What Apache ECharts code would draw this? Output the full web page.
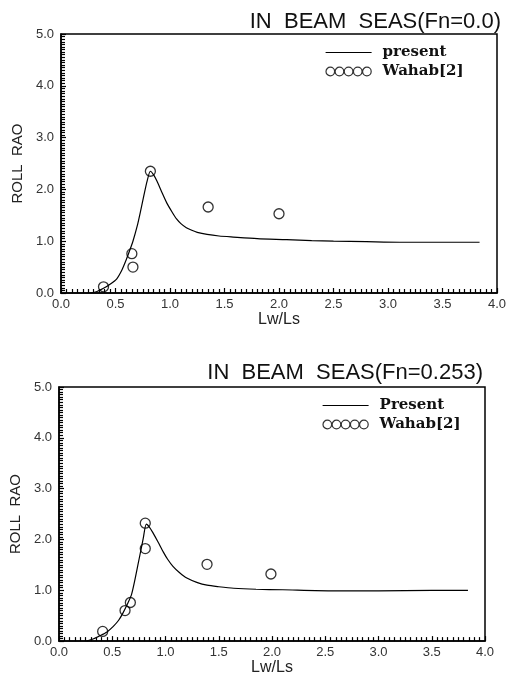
<!DOCTYPE html>
<html>
<head>
<meta charset="utf-8">
<script src="https://cdn.jsdelivr.net/npm/echarts@6/dist/echarts.min.js"></script>
<style>
html,body{margin:0;padding:0;background:#fff;}
#chart{width:511px;height:677px;}
</style>
</head>
<body>
<div id="chart"></div>
<script>
// ---- data ----
const titles = ['IN  BEAM  SEAS(Fn=0.0)', 'IN  BEAM  SEAS(Fn=0.253)'];
const lineNames = ['present', 'Present'];
const pointName = 'Wahab[2]';
const xAxisName = 'Lw/Ls';
const yAxisName = 'ROLL  RAO';

// present method, Fn = 0.0  [Lw/Ls, roll RAO]
const presentTop = [[0.27,0],[0.33,0.03],[0.39,0.09],[0.45,0.17],[0.51,0.27],[0.56,0.45],[0.60,0.65],
  [0.63,0.82],[0.66,1.0],[0.70,1.3],[0.73,1.58],[0.76,1.88],[0.79,2.16],[0.82,2.35],[0.85,2.28],
  [0.88,2.16],[0.92,1.97],[0.97,1.74],[1.02,1.56],[1.06,1.43],[1.10,1.34],[1.15,1.26],[1.20,1.21],
  [1.25,1.17],[1.34,1.13],[1.45,1.10],[1.58,1.08],[1.80,1.05],[2.07,1.03],[2.30,1.01],[2.50,1.0],[2.80,0.99],
  [3.11,0.98],[3.50,0.98],[3.84,0.98]];
// Wahab[2], Fn = 0.0
const wahabTop = [[0.39,0.12],[0.65,0.76],[0.66,0.50],[0.82,2.35],[1.35,1.66],[2.0,1.53]];

// present method, Fn = 0.253
const presentBottom = [[0.26,0],[0.32,0.04],[0.38,0.1],[0.45,0.18],[0.51,0.29],[0.56,0.41],[0.60,0.55],
  [0.64,0.72],[0.68,0.91],[0.71,1.18],[0.74,1.49],[0.77,1.8],[0.79,2.01],[0.82,2.3],[0.85,2.24],
  [0.88,2.14],[0.93,1.95],[0.98,1.75],[1.02,1.61],[1.07,1.47],[1.13,1.35],[1.20,1.24],[1.30,1.15],
  [1.39,1.10],[1.50,1.07],[1.64,1.04],[1.85,1.02],[2.10,1.01],[2.58,0.99],[3.00,0.99],[3.50,1.0],[3.84,1.0]];
// Wahab[2], Fn = 0.253
const wahabBottom = [[0.41,0.19],[0.62,0.60],[0.67,0.76],[0.81,2.32],[0.81,1.82],[1.39,1.51],[1.99,1.32]];

const xRange = [0, 4], xStep = 0.5;
const yRange = [0, 5], yStep = 1;

// ---- chart ----
const sans = 'Liberation Sans';
const serif = 'DejaVu Serif';
const grids = [
  {left: 61, top: 34, width: 436, height: 259},
  {left: 59, top: 387, width: 426, height: 256}
];

// legend icons (box 46 x 10)
function ringsPath() {
  let d = '';
  for (let i = 0; i < 5; i++) {
    const cx = 4.7 + i * 9.15, r = 4.3;
    d += 'M' + (cx - r) + ' 5A' + r + ' ' + r + ' 0 1 1 ' + (cx + r) + ' 5A' + r + ' ' + r + ' 0 1 1 ' + (cx - r) + ' 5Z';
  }
  d += 'M0 0L0.01 0M46 10L46.01 10';
  return 'path://' + d;
}
const linePath = 'path://M0 4.4H46V5.6H0ZM0 0L0.01 0M46 10L46.01 10';

function xAx(gi, nameGap) {
  return {
    gridIndex: gi, type: 'value', min: xRange[0], max: xRange[1], interval: xStep,
    name: xAxisName, nameLocation: 'middle', nameGap: nameGap,
    nameTextStyle: {fontFamily: sans, fontSize: 16, color: '#222'},
    axisLine: {lineStyle: {color: '#000', width: 1.5}},
    axisTick: {show: true, inside: true, length: 5, lineStyle: {color: '#000', width: 1.2}},
    minorTick: {show: true, splitNumber: 10, length: 4, lineStyle: {color: '#000', width: 1.2}},
    splitLine: {show: false},
    axisLabel: {fontFamily: sans, fontSize: 13, color: '#333', margin: 5,
      formatter: v => v.toFixed(1)}
  };
}
function yAx(gi) {
  return {
    gridIndex: gi, type: 'value', min: yRange[0], max: yRange[1], interval: yStep,
    name: yAxisName, nameLocation: 'middle', nameGap: 32,
    nameTextStyle: {fontFamily: sans, fontSize: 15, color: '#222'},
    axisLine: {lineStyle: {color: '#000', width: 1.5}},
    axisTick: {show: true, inside: true, length: 5, lineStyle: {color: '#000', width: 1.2}},
    minorTick: {show: true, splitNumber: 20, length: 4, lineStyle: {color: '#000', width: 1.2}},
    splitLine: {show: false},
    axisLabel: {fontFamily: sans, fontSize: 13, color: '#333', margin: 7,
      formatter: v => v.toFixed(1)}
  };
}
function legend(gi, top, left) {
  return {
    orient: 'vertical', left: left, top: top, itemGap: 4,
    itemWidth: 46, itemHeight: 10,
    textStyle: {fontFamily: serif, fontWeight: 'bold', fontSize: 15, color: '#111', padding: [0, 0, 0, 6]},
    selectedMode: false,
    data: [
      {name: lineNames[gi], icon: linePath,
        itemStyle: {color: '#000', borderWidth: 0}},
      {name: pointName + (gi ? ' ' : ''), icon: ringsPath(),
        itemStyle: {color: 'rgba(0,0,0,0)', borderColor: '#000', borderWidth: 1.2}}
    ],
    formatter: n => n.trim()
  };
}

const option = {
  backgroundColor: '#fff',
  animation: false,
  title: [
    {text: titles[0], right: 5, top: 6,
      textStyle: {fontFamily: sans, fontWeight: 'normal', fontSize: 22, color: '#111'}},
    {text: titles[1], right: 23, top: 357,
      textStyle: {fontFamily: sans, fontWeight: 'normal', fontSize: 22, color: '#111'}}
  ],
  legend: [legend(0, 40, 320), legend(1, 393, 317)],
  grid: grids.map(g => Object.assign({show: true, borderColor: '#000', borderWidth: 1.5,
    backgroundColor: 'transparent'}, g)),
  xAxis: [xAx(0, 12), xAx(1, 15)],
  yAxis: [yAx(0), yAx(1)],
  series: [
    {name: lineNames[0], type: 'line', xAxisIndex: 0, yAxisIndex: 0, data: presentTop,
      symbol: 'none', smooth: 0.25, lineStyle: {color: '#000', width: 1.2}, itemStyle: {color: '#000'}},
    {name: pointName, type: 'scatter', xAxisIndex: 0, yAxisIndex: 0, data: wahabTop,
      symbol: 'circle', symbolSize: 10,
      itemStyle: {color: 'rgba(0,0,0,0)', borderColor: '#000', borderWidth: 1.3}},
    {name: lineNames[1], type: 'line', xAxisIndex: 1, yAxisIndex: 1, data: presentBottom,
      symbol: 'none', smooth: 0.25, lineStyle: {color: '#000', width: 1.2}, itemStyle: {color: '#000'}},
    {name: pointName + ' ', type: 'scatter', xAxisIndex: 1, yAxisIndex: 1, data: wahabBottom,
      symbol: 'circle', symbolSize: 10,
      itemStyle: {color: 'rgba(0,0,0,0)', borderColor: '#000', borderWidth: 1.3}}
  ]
};
const chart = echarts.init(document.getElementById('chart'), null, {renderer: 'canvas'});
chart.setOption(option);
</script>
</body>
</html>
